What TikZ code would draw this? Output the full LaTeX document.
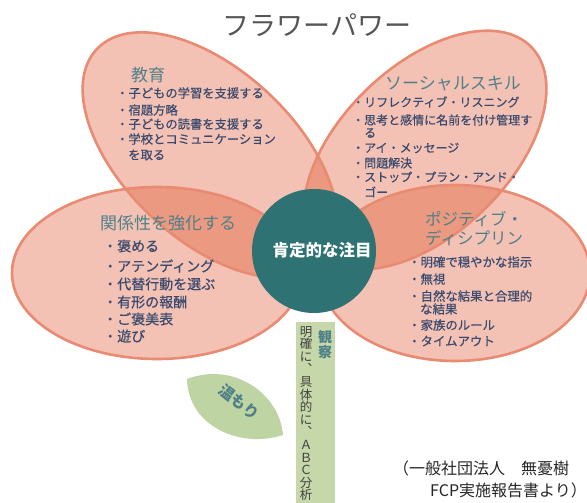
\documentclass[tikz,border=0pt]{standalone}
\usepackage{fontspec}
\setmainfont{Noto Sans CJK JP}
\newfontfamily\itemfont[FakeBold=0.5]{Noto Sans CJK JP}
\definecolor{petalfill}{HTML}{DB461C}
\definecolor{petalline}{HTML}{E98A72}
\definecolor{heartcol}{HTML}{2E7273}
\definecolor{headcol}{HTML}{4F8088}
\definecolor{itemcol}{HTML}{3A4A6E}
\definecolor{titlecol}{HTML}{555555}
\definecolor{stemcol}{HTML}{C6D7A9}
\definecolor{leafcol}{HTML}{BFD4A3}
\begin{document}
\begin{tikzpicture}[x=1pt,y=-1pt,
  petalbody/.style={fill=petalfill,fill opacity=0.33},
  petaledge/.style={draw=petalline,line width=2.6pt},
  head/.style={text=headcol,inner sep=0,font=\fontsize{17}{17}\selectfont},
  itm/.style={text=itemcol,inner sep=0,anchor=west},
  itmA/.style={itm,font=\itemfont\fontsize{12.3}{12.3}\selectfont},
  itmB/.style={itm,font=\itemfont\fontsize{12}{12}\selectfont},
  itmC/.style={itm,font=\itemfont\fontsize{14}{14}\selectfont},
  itmD/.style={itm,font=\itemfont\fontsize{12.4}{12.4}\selectfont}]
\clip (0,0) rectangle (587,503);
\fill[white] (0,0) rectangle (587,503);

% petal bodies (translucent, so overlaps darken)
\path[petalbody,rotate around={-43:(210,155)}] (210,155) ellipse [x radius=155,y radius=85];
\path[petalbody,rotate around={44:(425,150)}] (425,150) ellipse [x radius=148,y radius=84];
\path[petalbody] (157,273) ellipse [x radius=145,y radius=86];
\path[petalbody] (455,273) ellipse [x radius=135,y radius=88];
% petal outlines
\path[petaledge,rotate around={-43:(210,155)}] (210,155) ellipse [x radius=155,y radius=85];
\path[petaledge,rotate around={44:(425,150)}] (425,150) ellipse [x radius=148,y radius=84];
\path[petaledge] (157,273) ellipse [x radius=145,y radius=86];
\path[petaledge] (455,273) ellipse [x radius=135,y radius=88];

% stem and leaf
\fill[stemcol] (296,322) rectangle (335,503);
\coordinate (leafL) at (187,379);
\coordinate (leafR) at (283,435);
\fill[leafcol] (leafL) .. controls (235,361) and (280,395) .. (leafR)
  .. controls (240,449) and (188,426) .. (leafL);

% heart of the flower
\node[circle,fill=heartcol,minimum size=124pt,inner sep=0] (heart) at (314,251) {};
\node[text=white,inner sep=0,font=\fontsize{16.5}{16.5}\selectfont\bfseries] (heartlbl) at (322,250) {肯定的な注目};

% title
\node[text=titlecol,inner sep=0,font=\fontsize{27}{27}\selectfont] (title) at (317,25) {フラワーパワー};

% education
\node[head] (eduhead) at (148,75) {教育};
\node[itmA] (edu1) at (116,93) {・子どもの学習を支援する};
\node[itmA] (edu2) at (116,110) {・宿題方略};
\node[itmA] (edu3) at (116,124) {・子どもの読書を支援する};
\node[itmA] (edu4) at (116,139) {・学校とコミュニケーション};
\node[itmA] (edu5) at (128,155) {を取る};

% social skills
\node[head] (sochead) at (453,84) {ソーシャルスキル};
\node[itmB] (soc1) at (352,102) {・リフレクティブ・リスニング};
\node[itmB] (soc2) at (352,120) {・思考と感情に名前を付け管理す};
\node[itmB] (soc3) at (364,133) {る};
\node[itmB] (soc4) at (352,148) {・アイ・メッセージ};
\node[itmB] (soc5) at (352,163) {・問題解決};
\node[itmB] (soc6) at (352,177) {・ストップ・プラン・アンド・};
\node[itmB] (soc7) at (364,192) {ゴー};

% relationships
\node[head] (relhead) at (168,223) {関係性を強化する};
\node[itmC] (rel1) at (103,246) {・褒める};
\node[itmC] (rel2) at (103,266) {・アテンディング};
\node[itmC] (rel3) at (103,284) {・代替行動を選ぶ};
\node[itmC] (rel4) at (103,302) {・有形の報酬};
\node[itmC] (rel5) at (103,319) {・ご褒美表};
\node[itmC] (rel6) at (103,336) {・遊び};

% positive discipline
\node[head,anchor=west,font=\fontsize{16.5}{16.5}\selectfont] (poshead1) at (425,219) {ポジティブ・};
\node[head,anchor=west,font=\fontsize{16.5}{16.5}\selectfont] (poshead2) at (425,238) {ディシプリン};
\node[itmD] (pos1) at (408,262) {・明確で穏やかな指示};
\node[itmD] (pos2) at (408,279) {・無視};
\node[itmD] (pos3) at (408,296) {・自然な結果と合理的};
\node[itmD] (pos4) at (420,309) {な結果};
\node[itmD] (pos5) at (408,325) {・家族のルール};
\node[itmD] (pos6) at (408,341) {・タイムアウト};

% stem writing (vertical)
\node[text=headcol,inner sep=0,anchor=north,align=center,
  font=\fontsize{14}{15}\selectfont\bfseries] (observe) at (325,330) {観\\察};
\node[text=black!75,inner sep=0,anchor=north,align=center,
  font=\fontsize{12.5}{12.6}\selectfont] (stemtext) at (306,326)
  {明\\確\\に\\︑\\具\\体\\的\\に\\︑\\Ａ\\Ｂ\\Ｃ\\分\\析};

% leaf label
\node[text=headcol,inner sep=0,rotate=-38,font=\fontsize{15.5}{15.5}\selectfont\bfseries] (warmth) at (239,402) {温もり};

% source
\node[text=black!85,inner sep=0,anchor=west,font=\fontsize{16}{16}\selectfont] (src1) at (393,468) {（一般社団法人　無憂樹};
\node[text=black!85,inner sep=0,anchor=west,font=\fontsize{16}{16}\selectfont] (src2) at (430,490) {FCP実施報告書より）};
\end{tikzpicture}
\end{document}
